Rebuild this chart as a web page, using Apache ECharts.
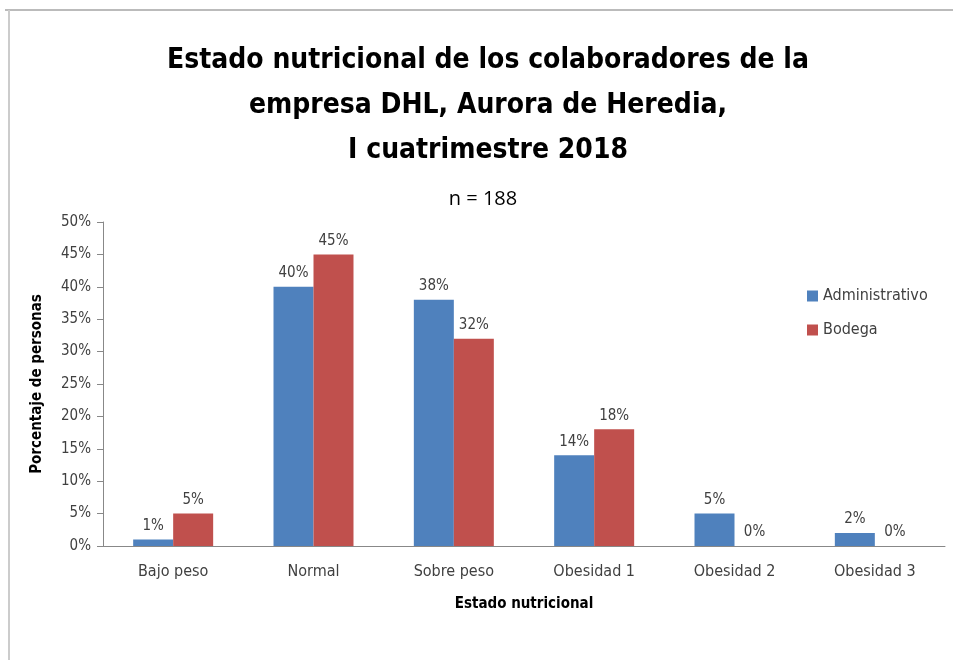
<!DOCTYPE html>
<html>
<head>
<meta charset="utf-8">
<script src="https://cdn.jsdelivr.net/npm/echarts@6/dist/echarts.min.js"></script>
<style>
html, body { margin: 0; padding: 0; background: #fff; }
#chart { width: 953px; height: 660px; }
</style>
</head>
<body>
<div id="chart"></div>
<script>
var categories = ['Bajo peso', 'Normal', 'Sobre peso', 'Obesidad 1', 'Obesidad 2', 'Obesidad 3'];
var administrativo = [1, 40, 38, 14, 5, 2];
var bodega = [5, 45, 32, 18, 0, 0];
var yTicks = { min: 0, max: 50, interval: 5 };

var font = '"Liberation Sans Narrow", "DejaVu Sans Condensed", sans-serif';

var myChart = echarts.init(document.getElementById('chart'));

var labelStyle = {
    show: true,
    position: 'top',
    distance: 6,
    color: '#404040',
    fontSize: 15,
    fontFamily: font,
    formatter: '{c}%'
};

var option = {
    backgroundColor: '#fff',
    animation: false,
    graphic: [
        { type: 'line', shape: { x1: 5, y1: 10, x2: 953, y2: 10 }, style: { stroke: '#bbb', lineWidth: 2 } },
        { type: 'line', shape: { x1: 9, y1: 10, x2: 9, y2: 660 }, style: { stroke: '#ccc', lineWidth: 2 } }
    ],
    title: [
        {
            text: 'Estado nutricional de los colaboradores de la\nempresa DHL, Aurora de Heredia,\nI cuatrimestre 2018',
            left: 483,
            top: 33,
            textAlign: 'center',
            textStyle: {
                fontFamily: font,
                fontWeight: 'bold',
                fontSize: 28,
                lineHeight: 45,
                color: '#000'
            }
        },
        {
            text: 'n = 188',
            left: 478,
            top: 184,
            textAlign: 'center',
            textStyle: {
                fontFamily: '"Open Sans", sans-serif',
                fontWeight: 'normal',
                fontSize: 20,
                color: '#000'
            }
        }
    ],
    legend: {
        orient: 'vertical',
        left: 802,
        top: 283,
        itemWidth: 11,
        itemHeight: 11,
        itemGap: 18,
        icon: 'rect',
        textStyle: { fontFamily: font, fontSize: 16, color: '#404040' },
        data: ['Administrativo', 'Bodega']
    },
    grid: { left: 103, right: 8, top: 222, bottom: 114 },
    xAxis: {
        type: 'category',
        data: categories,
        name: 'Estado nutricional',
        nameLocation: 'middle',
        nameGap: 51,
        nameTextStyle: { fontFamily: font, fontWeight: 'bold', fontSize: 15, color: '#000' },
        axisLine: { lineStyle: { color: '#888' } },
        axisTick: { lineStyle: { color: '#888' }, length: 6 },
        axisLabel: { fontFamily: font, fontSize: 16, color: '#404040', margin: 18 }
    },
    yAxis: {
        type: 'value',
        min: yTicks.min,
        max: yTicks.max,
        interval: yTicks.interval,
        name: 'Porcentaje de personas',
        nameLocation: 'middle',
        nameGap: 58,
        nameTextStyle: { fontFamily: font, fontWeight: 'bold', fontSize: 15, color: '#000' },
        axisLine: { show: true, lineStyle: { color: '#888' } },
        axisTick: { show: true, lineStyle: { color: '#888' }, length: 6 },
        splitLine: { show: false },
        axisLabel: { fontFamily: font, fontSize: 15, color: '#404040', margin: 12, formatter: '{value}%' }
    },
    series: [
        {
            name: 'Administrativo',
            type: 'bar',
            data: administrativo,
            barGap: '0%',
            barCategoryGap: '43%',
            itemStyle: { color: '#4F81BD' },
            label: labelStyle
        },
        {
            name: 'Bodega',
            type: 'bar',
            data: bodega,
            itemStyle: { color: '#C0504D' },
            label: labelStyle
        }
    ]
};
myChart.setOption(option);
</script>
</body>
</html>
